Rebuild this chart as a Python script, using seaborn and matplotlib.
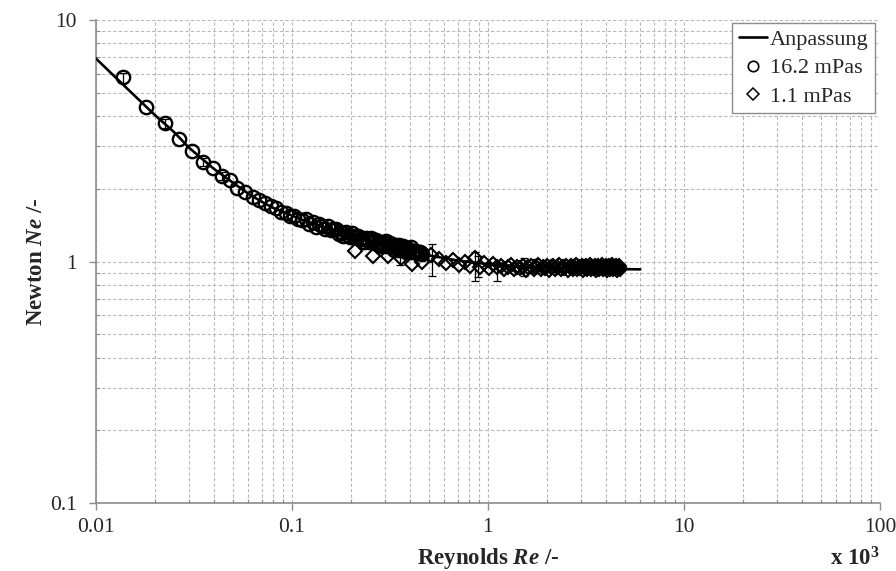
import matplotlib
matplotlib.use("Agg")
import matplotlib.pyplot as plt
from matplotlib.lines import Line2D
from matplotlib import ticker
import seaborn as sns
import pandas as pd

# Fitted curve (Anpassung), Re in units of 10^3
fit_re = [0.01, 0.012, 0.015, 0.02, 0.025, 0.03, 0.04, 0.05, 0.06, 0.07, 0.08,
          0.1, 0.12, 0.15, 0.2, 0.25, 0.3, 0.4, 0.5, 0.7, 1.0, 1.5, 2.0, 3.0,
          4.0, 5.0, 6.0]
fit_ne = [6.93, 6.01, 5.05, 4.04, 3.44, 2.95, 2.42, 2.12, 1.91, 1.77, 1.67,
          1.55, 1.46, 1.38, 1.28, 1.22, 1.18, 1.11, 1.06, 1.01, 0.975, 0.955,
          0.945, 0.937, 0.933, 0.93, 0.928]

# 16.2 mPas measurements
re_162 = [0.0138, 0.0181, 0.0225, 0.0265, 0.0310, 0.0353, 0.0397, 0.0438,
          0.0483, 0.0522, 0.0576, 0.0630,
          0.068, 0.073, 0.078, 0.083, 0.088, 0.093, 0.098, 0.103, 0.108, 0.113,
          0.118, 0.123, 0.128, 0.133, 0.138, 0.143, 0.148, 0.153, 0.158, 0.163,
          0.168, 0.173, 0.178, 0.183, 0.188, 0.193, 0.198, 0.203, 0.208, 0.213,
          0.218, 0.223, 0.228, 0.233, 0.238, 0.243, 0.248, 0.253, 0.258, 0.263,
          0.268, 0.273, 0.278, 0.283, 0.288, 0.293, 0.298, 0.303, 0.308, 0.313,
          0.318, 0.323, 0.328, 0.333, 0.338, 0.343, 0.348, 0.353, 0.358, 0.363,
          0.368, 0.373, 0.378, 0.383, 0.388, 0.393, 0.398, 0.403, 0.408, 0.413,
          0.418, 0.423, 0.428, 0.433, 0.438, 0.443, 0.448, 0.453, 0.458, 0.463]
ne_162 = [5.78, 4.37, 3.73, 3.21, 2.87, 2.58, 2.43, 2.26,
          2.17, 2.02, 1.94, 1.85,
          1.79, 1.74, 1.69, 1.66, 1.61, 1.59, 1.55, 1.54, 1.50, 1.49,
          1.50, 1.43, 1.46, 1.39, 1.43, 1.40, 1.36, 1.40, 1.35, 1.36,
          1.36, 1.30, 1.32, 1.28, 1.32, 1.29, 1.26, 1.31, 1.26, 1.27,
          1.28, 1.24, 1.25, 1.21, 1.25, 1.24, 1.20, 1.25, 1.20, 1.23,
          1.23, 1.18, 1.21, 1.16, 1.21, 1.18, 1.16, 1.22, 1.16, 1.18,
          1.19, 1.15, 1.17, 1.12, 1.17, 1.16, 1.12, 1.17, 1.13, 1.14,
          1.16, 1.12, 1.13, 1.09, 1.14, 1.11, 1.09, 1.15, 1.10, 1.11,
          1.11, 1.09, 1.10, 1.08, 1.10, 1.09, 1.08, 1.09, 1.08, 1.07]

# 1.1 mPas measurements
re_11 = [0.21, 0.26, 0.31, 0.36, 0.41, 0.46, 0.51, 0.56, 0.61, 0.66, 0.71,
         0.76, 0.81, 0.86, 0.91, 0.96, 1.01, 1.06, 1.11, 1.16, 1.21, 1.26,
         1.31, 1.36, 1.41, 1.46, 1.51, 1.56, 1.61, 1.66, 1.71, 1.76, 1.81,
         1.86, 1.91, 1.96, 2.01, 2.06, 2.11, 2.16, 2.21, 2.26, 2.31, 2.36,
         2.41, 2.46, 2.51, 2.56, 2.61, 2.66, 2.71, 2.76, 2.81, 2.86, 2.91,
         2.96, 3.01, 3.06, 3.11, 3.16, 3.21, 3.26, 3.31, 3.36, 3.41, 3.46,
         3.51, 3.56, 3.61, 3.66, 3.71, 3.76, 3.81, 3.86, 3.91, 3.96, 4.01,
         4.06, 4.11, 4.16, 4.21, 4.26, 4.31, 4.36, 4.41, 4.46, 4.51, 4.56,
         4.61, 4.66, 4.71]
ne_11 = [1.11, 1.05, 1.05, 1.03, 0.975, 1.00, 1.06, 1.02, 0.99, 1.01, 0.97,
         1.00, 0.96, 1.03, 0.95, 0.99, 0.94, 0.98, 0.95,
         0.96, 0.93, 0.95, 0.97, 0.93, 0.95, 0.94, 0.96, 0.92, 0.95,
         0.96, 0.93, 0.95, 0.97, 0.93, 0.95, 0.94, 0.96, 0.92, 0.95,
         0.96, 0.93, 0.95, 0.97, 0.93, 0.95, 0.94, 0.96, 0.92, 0.95,
         0.96, 0.93, 0.95, 0.97, 0.93, 0.95, 0.94, 0.96, 0.92, 0.95,
         0.96, 0.93, 0.95, 0.97, 0.93, 0.95, 0.94, 0.96, 0.92, 0.95,
         0.96, 0.93, 0.95, 0.97, 0.93, 0.95, 0.94, 0.96, 0.92, 0.95,
         0.96, 0.93, 0.95, 0.97, 0.93, 0.95, 0.94, 0.96, 0.92, 0.95,
         0.96, 0.93]

# Error bars (centre, lower and upper bound)
err_re = [0.0138, 0.0225, 0.0353, 0.0438, 0.357, 0.52, 0.859, 0.89, 1.11, 1.53, 1.75]
err_ne = [5.78, 3.73, 2.58, 2.26, 1.08, 1.02, 0.96, 0.95, 0.92, 0.95, 0.96]
err_lo = [5.50, 3.58, 2.48, 2.18, 0.97, 0.87, 0.83, 0.86, 0.83, 0.87, 0.90]
err_hi = [6.05, 3.88, 2.68, 2.34, 1.19, 1.18, 1.10, 1.05, 1.00, 1.03, 1.02]

x_ticks = [0.01, 0.1, 1, 10, 100]
x_labels = ["0.01", "0.1", "1", "10", "100"]
y_ticks = [0.1, 1, 10]
y_labels = ["0.1", "1", "10"]

sns.set_theme(style="white")
plt.rcParams["font.family"] = ["Liberation Serif", "DejaVu Serif"]
plt.rcParams["mathtext.fontset"] = "custom"
plt.rcParams["mathtext.it"] = "Liberation Serif:italic:bold"
plt.rcParams["mathtext.rm"] = "Liberation Serif:bold"
plt.rcParams["mathtext.bf"] = "Liberation Serif:bold"

fig = plt.figure(figsize=(8.96, 5.71), dpi=100)
ax = fig.add_axes([0.107, 0.119, 0.875, 0.846])
ax.set_xscale("log")
ax.set_yscale("log")

fit_df = pd.DataFrame({"Re": fit_re, "Ne": fit_ne})
df_162 = pd.DataFrame({"Re": re_162, "Ne": ne_162})
df_11 = pd.DataFrame({"Re": re_11, "Ne": ne_11})

sns.lineplot(data=df_162, x="Re", y="Ne", ax=ax, estimator=None, sort=False,
             linestyle="", marker="o", markersize=9.6, markerfacecolor="none",
             markeredgecolor="black", markeredgewidth=1.7, zorder=3)
sns.lineplot(data=df_11, x="Re", y="Ne", ax=ax, estimator=None, sort=False,
             linestyle="", marker="D", markersize=7.0, markerfacecolor="none",
             markeredgecolor="black", markeredgewidth=1.5, zorder=3)
sns.lineplot(data=fit_df, x="Re", y="Ne", ax=ax, estimator=None, sort=False,
             color="black", linewidth=1.9, zorder=4)

yerr = [[c - lo for c, lo in zip(err_ne, err_lo)],
        [hi - c for c, hi in zip(err_ne, err_hi)]]
ax.errorbar(err_re, err_ne, yerr=yerr, fmt="none", ecolor="black",
            elinewidth=0.9, capsize=3, capthick=0.9, zorder=5)

ax.set_xlim(0.01, 100)
ax.set_ylim(0.1, 10)
ax.set_xticks(x_ticks)
ax.set_xticklabels(x_labels)
ax.set_yticks(y_ticks)
ax.set_yticklabels(y_labels)
ax.xaxis.set_minor_locator(ticker.LogLocator(base=10, subs=range(2, 10)))
ax.yaxis.set_minor_locator(ticker.LogLocator(base=10, subs=range(2, 10)))
ax.xaxis.set_minor_formatter(ticker.NullFormatter())
ax.yaxis.set_minor_formatter(ticker.NullFormatter())

ax.grid(which="both", linestyle=(0, (3, 2)), color="#b8b8b8", linewidth=0.8)
ax.set_axisbelow(True)
for side in ("top", "right"):
    ax.spines[side].set_visible(False)
for side in ("left", "bottom"):
    ax.spines[side].set_color("#8c8c8c")
    ax.spines[side].set_linewidth(1.2)

ax.tick_params(which="major", direction="out", length=5, width=1,
               color="#8c8c8c", labelsize=15.5, bottom=True, left=True)
ax.tick_params(axis="x", which="major", pad=6)
ax.tick_params(axis="y", which="major", pad=9)
ax.tick_params(which="minor", direction="in", length=3, width=0.8,
               color="#8c8c8c", bottom=True, left=True)

ax.set_xlabel("Reynolds $Re$ /-", fontsize=16.5, fontweight="bold", va="center")
ax.xaxis.set_label_coords(0.5, -0.114)
ax.set_ylabel("Newton $Ne$ /-", fontsize=16.5, fontweight="bold", va="center")
ax.yaxis.set_label_coords(-0.076, 0.5)
ax.text(1.0, -0.116, r"x 10$^{3}$", transform=ax.transAxes, ha="right",
        va="center", fontsize=16.5, fontweight="bold")

handles = [
    Line2D([], [], color="black", linewidth=1.9),
    Line2D([], [], linestyle="", marker="o", markersize=7.5,
           markerfacecolor="none", markeredgecolor="black", markeredgewidth=1.2),
    Line2D([], [], linestyle="", marker="D", markersize=5.8,
           markerfacecolor="none", markeredgecolor="black", markeredgewidth=1.1),
]
leg = ax.legend(handles, ["Anpassung", "16.2 mPas", "1.1 mPas"],
                loc="upper right", bbox_to_anchor=(0.994, 0.994),
                fontsize=16, frameon=True, fancybox=False, framealpha=1,
                edgecolor="#8c8c8c", handlelength=1.25, handletextpad=0.15,
                borderpad=0.3, labelspacing=0.35, borderaxespad=0.0)
leg.get_frame().set_linewidth(1.0)

fig.savefig("out.png", dpi=100)
